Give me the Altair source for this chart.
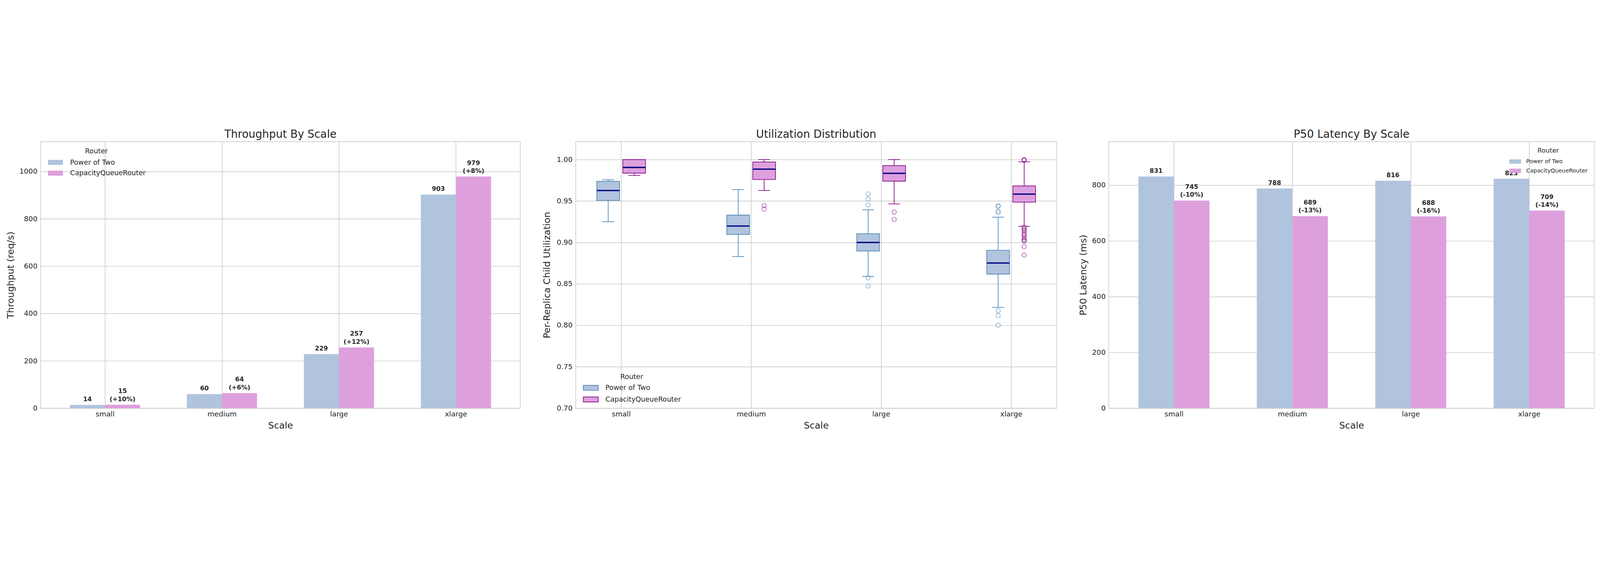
import json
import altair as alt
import pandas as pd

# ---------------- data ----------------
scales = ["small", "medium", "large", "xlarge"]
routers = ["Power of Two", "CapacityQueueRouter"]

tput_pot = [14, 60, 229, 903]
tput_cqr = [15, 64, 257, 979]
tput_pct = ["+10%", "+6%", "+12%", "+8%"]

lat_pot = [831, 788, 816, 823]
lat_cqr = [745, 689, 688, 709]
lat_pct = ["-10%", "-13%", "-16%", "-14%"]

util_pot_lo = [0.9250, 0.8830, 0.8591, 0.8217]
util_pot_q1 = [0.9507, 0.9097, 0.8897, 0.8618]
util_pot_med = [0.9627, 0.9198, 0.9000, 0.8752]
util_pot_q3 = [0.9737, 0.9330, 0.9106, 0.8906]
util_pot_hi = [0.9757, 0.9638, 0.9394, 0.9305]

util_cqr_lo = [0.9808, 0.9627, 0.9465, 0.9195]
util_cqr_q1 = [0.9836, 0.9759, 0.9740, 0.9486]
util_cqr_med = [0.9905, 0.9884, 0.9834, 0.9583]
util_cqr_q3 = [1.0000, 0.9970, 0.9927, 0.9682]
util_cqr_hi = [1.0000, 1.0000, 1.0000, 0.9973]

out_pot_small = []
out_pot_medium = []
out_pot_large = [0.9586, 0.9524, 0.9451, 0.8572, 0.8475]
out_pot_xlarge = [0.9443, 0.9434, 0.9377, 0.9363, 0.8176, 0.8117, 0.8001]
out_cqr_small = []
out_cqr_medium = [0.9444, 0.9401]
out_cqr_large = [0.9366, 0.9277]
out_cqr_xlarge = [1.0000, 0.9995, 0.9990, 0.9185, 0.9170, 0.9155, 0.9140, 0.9115,
                  0.9095, 0.9085, 0.9060, 0.9040, 0.9025, 0.9015, 0.8950, 0.8849]

# ---------------- style ----------------
FONT = "DejaVu Sans"
TXT = "#262626"
GRID = "#cccccc"
FILL = ["#B0C4DE", "#DDA0DD"]
EDGE = ["#4682B4", "#800080"]
MEDIAN = "#000080"

H = 1238
W1, W2, W3 = 2226, 2232, 2253
SPACING = 99
BW = 0.3          # bar width (category units)
BOX_OFF = 0.1     # box dodge offset
BOX_HW = 0.0875   # box half width
CAP_HW = 0.045    # whisker cap half width
LBL_GAP = -11     # label gap above bar
LBL_LINE = 37     # label line height

label_expr = json.dumps(scales) + "[datum.value]"


def x_axis():
    return alt.Axis(values=[0, 1, 2, 3], labelExpr=label_expr, title="Scale", grid=True)


def legend(x, y, sym_path, sym_size, label_offset, label_fs, title_fs, row_pad, title_pad, stroke_w=0):
    return alt.Legend(
        title="Router", orient="none", legendX=x, legendY=y,
        symbolType=sym_path, symbolSize=sym_size, symbolStrokeWidth=stroke_w,
        labelOffset=label_offset, labelFontSize=label_fs, titleFontSize=title_fs,
        titleFontWeight="normal", titleAnchor="middle", titleAlign="center",
        titlePadding=title_pad, rowPadding=row_pad, padding=0,
        labelColor=TXT, titleColor=TXT, labelFont=FONT, titleFont=FONT,
        labelLimit=600,
    )


def title_params(text):
    return alt.TitleParams(text, fontSize=50, font=FONT, color=TXT, fontWeight="normal",
                           anchor="middle", baseline="alphabetic", offset=19, dy=51,
                           frame="group")


def bar_panel(pot, cqr, pct, title, ytitle, ymax, yvals, width, leg):
    rows = []
    for i, s in enumerate(scales):
        rows.append(dict(scale=s, router=routers[0], value=pot[i], base=0,
                         x0=i - BW, x1=i, xc=i - BW / 2, num=f"{pot[i]}", pct=""))
        rows.append(dict(scale=s, router=routers[1], value=cqr[i], base=0,
                         x0=i, x1=i + BW, xc=i + BW / 2, num=f"{cqr[i]}", pct=f"({pct[i]})"))
    df = pd.DataFrame(rows)
    xs = alt.Scale(domain=[-0.55, 3.55], nice=False, zero=False)
    ys = alt.Scale(domain=[0, ymax], nice=False)
    bars = alt.Chart(df).mark_rect().encode(
        x=alt.X("x0:Q", scale=xs, axis=x_axis()),
        x2="x1:Q",
        y=alt.Y("value:Q", scale=ys, axis=alt.Axis(values=yvals, format="d", title=ytitle)),
        y2="base:Q",
        color=alt.Color("router:N", scale=alt.Scale(domain=routers, range=FILL), legend=leg),
    )
    tstyle = dict(baseline="bottom", fontWeight="bold", fontSize=29, color=TXT, font=FONT)
    num_pot = alt.Chart(df).transform_filter(alt.datum.router == routers[0]).mark_text(
        dy=LBL_GAP, **tstyle).encode(x="xc:Q", y="value:Q", text="num:N")
    num_cqr = alt.Chart(df).transform_filter(alt.datum.router == routers[1]).mark_text(
        dy=LBL_GAP - LBL_LINE, **tstyle).encode(x="xc:Q", y="value:Q", text="num:N")
    pct_cqr = alt.Chart(df).transform_filter(alt.datum.router == routers[1]).mark_text(
        dy=LBL_GAP, **tstyle).encode(x="xc:Q", y="value:Q", text="pct:N")
    return alt.layer(bars, num_pot, num_cqr, pct_cqr).properties(
        width=width, height=H, title=title_params(title))


# ---------------- panel 1 ----------------
p1 = bar_panel(tput_pot, tput_cqr, tput_pct, "Throughput By Scale", "Throughput (req/s)",
               1126, [0, 200, 400, 600, 800, 1000], W1,
               legend(30, 30, "M-1,-1H5V1H-1Z", 529, 75, 32, 32, 18, 18))

# ---------------- panel 3 ----------------
p3 = bar_panel(lat_pot, lat_cqr, lat_pct, "P50 Latency By Scale", "P50 Latency (ms)",
               955.6, [0, 200, 400, 600, 800], W3,
               legend(1855, 27, "M-1,-1H4.5V1H-1Z", 400, 56, 26, 30, 17, 22))

# ---------------- panel 2 (box plot) ----------------
stats = {
    routers[0]: (util_pot_lo, util_pot_q1, util_pot_med, util_pot_q3, util_pot_hi, -BOX_OFF),
    routers[1]: (util_cqr_lo, util_cqr_q1, util_cqr_med, util_cqr_q3, util_cqr_hi, BOX_OFF),
}
outs = {
    routers[0]: [out_pot_small, out_pot_medium, out_pot_large, out_pot_xlarge],
    routers[1]: [out_cqr_small, out_cqr_medium, out_cqr_large, out_cqr_xlarge],
}
box_rows, out_rows = [], []
for r in routers:
    lo, q1, med, q3, hi, off = stats[r]
    for i, s in enumerate(scales):
        xc = i + off
        box_rows.append(dict(scale=s, router=r, lo=lo[i], q1=q1[i], med=med[i], q3=q3[i], hi=hi[i],
                             xc=xc, bx0=xc - BOX_HW, bx1=xc + BOX_HW, c0=xc - CAP_HW, c1=xc + CAP_HW))
        for v in outs[r][i]:
            out_rows.append(dict(scale=s, router=r, val=v, xc=xc))
bdf = pd.DataFrame(box_rows)
odf = pd.DataFrame(out_rows)

xs2 = alt.Scale(domain=[-0.35, 3.35], nice=False, zero=False)
ys2 = alt.Scale(domain=[0.70, 1.0215], nice=False, zero=False)
leg2 = legend(31, 1077, "M-1,-1H5V1H-1Z", 529, 75, 32, 32, 18, 18, stroke_w=3)
fill_enc = alt.Fill("router:N", scale=alt.Scale(domain=routers, range=FILL), legend=leg2)
stroke_enc = alt.Stroke("router:N", scale=alt.Scale(domain=routers, range=EDGE), legend=leg2)

base = alt.Chart(bdf)
whisk = base.mark_rule(strokeWidth=3).encode(
    x=alt.X("xc:Q", scale=xs2, axis=x_axis()),
    y=alt.Y("lo:Q", scale=ys2, axis=alt.Axis(values=[0.70, 0.75, 0.80, 0.85, 0.90, 0.95, 1.00],
                                             format=".2f", title="Per-Replica Child Utilization",
                                             titlePadding=23)),
    y2="hi:Q", stroke=stroke_enc)
cap_lo = base.mark_rule(strokeWidth=3).encode(x="c0:Q", x2="c1:Q", y="lo:Q", stroke=stroke_enc)
cap_hi = base.mark_rule(strokeWidth=3).encode(x="c0:Q", x2="c1:Q", y="hi:Q", stroke=stroke_enc)
box = base.mark_rect(strokeWidth=3).encode(
    x="bx0:Q", x2="bx1:Q", y="q1:Q", y2="q3:Q", fill=fill_enc, stroke=stroke_enc)
median = base.mark_rule(strokeWidth=6, color=MEDIAN).encode(x="bx0:Q", x2="bx1:Q", y="med:Q")
pts = alt.Chart(odf).mark_point(shape="circle", filled=False, size=400, strokeWidth=2.5).encode(
    x="xc:Q", y="val:Q", stroke=stroke_enc)

p2 = alt.layer(whisk, cap_lo, cap_hi, box, median, pts).properties(
    width=W2, height=H, title=title_params("Utilization Distribution"))

chart = alt.hconcat(p1, p2, p3, spacing=SPACING).resolve_scale(
    x="independent", y="independent", color="independent", fill="independent",
    stroke="independent").resolve_legend(color="independent", fill="independent", stroke="independent")

chart = chart.properties(
    padding={"left": 12, "top": 10, "right": 10, "bottom": 0},
).configure(font=FONT).configure_view(
    stroke=GRID, strokeWidth=3,
).configure_axis(
    labelFont=FONT, titleFont=FONT, labelFontSize=33, titleFontSize=43,
    titleFontWeight="normal", labelColor=TXT, titleColor=TXT,
    gridColor=GRID, gridWidth=3, domain=False, ticks=False,
).configure_axisX(labelPadding=12, titlePadding=14).configure_axisY(labelPadding=15, titlePadding=18)

chart.save("out.html", embed_options={"renderer": "svg", "actions": False})
